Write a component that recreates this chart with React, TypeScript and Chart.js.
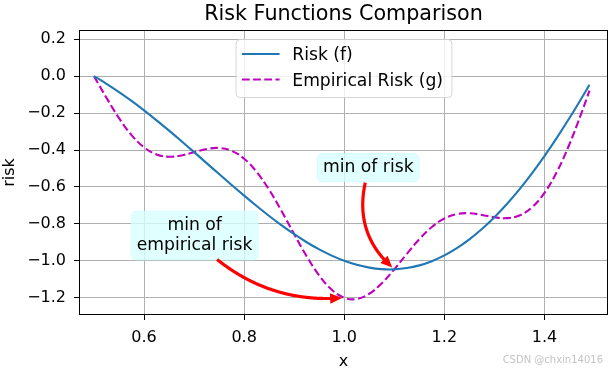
import React, { useEffect, useRef } from 'react';
import { Chart, registerables } from 'chart.js';

Chart.register(...registerables);

// ---------- data ----------
const xValues = [
  0.5, 0.525, 0.55, 0.575, 0.6, 0.625, 0.65, 0.675, 0.7, 0.725,
  0.75, 0.775, 0.8, 0.825, 0.85, 0.875, 0.9, 0.925, 0.95, 0.975,
  1.0, 1.025, 1.05, 1.075, 1.1, 1.125, 1.15, 1.175, 1.2, 1.225,
  1.25, 1.275, 1.3, 1.325, 1.35, 1.375, 1.4, 1.425, 1.45, 1.475, 1.49,
];
const riskF = [
  0, -0.0412, -0.086, -0.1342, -0.1854, -0.2392, -0.2951, -0.3527, -0.4115, -0.4709,
  -0.5303, -0.5893, -0.6472, -0.7034, -0.7574, -0.8084, -0.856, -0.8994, -0.9383, -0.972,
  -1.0, -1.0218, -1.0371, -1.0453, -1.0462, -1.0394, -1.0247, -1.0019, -0.9708, -0.9315,
  -0.8839, -0.8281, -0.7641, -0.6923, -0.6129, -0.5262, -0.4326, -0.3327, -0.2268, -0.1157, -0.0468,
];
const empiricalRiskG = [
  0, -0.1177, -0.2275, -0.319, -0.3854, -0.424, -0.4365, -0.4292, -0.4115, -0.3943,
  -0.3889, -0.4045, -0.4472, -0.5187, -0.6159, -0.7319, -0.856, -0.976, -1.0797, -1.1568,
  -1.2, -1.2066, -1.1785, -1.1218, -1.0462, -0.9628, -0.8832, -0.8171, -0.7708, -0.7467,
  -0.7425, -0.7515, -0.7641, -0.7689, -0.7543, -0.711, -0.6326, -0.5175, -0.3682, -0.1923, -0.0781,
];
const seriesLabels = ['Risk (f)', 'Empirical Risk (g)'];
const xTicks = [0.6, 0.8, 1.0, 1.2, 1.4];
const yTicks = [-1.2, -1.0, -0.8, -0.6, -0.4, -0.2, 0.0, 0.2];
const xRange = [0.47, 1.527];
const yRange = [-1.2935, 0.25];
const titleText = 'Risk Functions Comparison';
const xLabel = 'x';
const yLabel = 'risk';
const watermark = 'CSDN @chxin14016';

// annotations: text, text centre (data), arrow start (data), arrow target (data)
const annRiskText = ['min of risk'];
const annRiskTextAt = [1.048, -0.495];
const annRiskFrom = [1.042, -0.577];
const annRiskTo = [1.1, -1.046];
const annEmpText = ['min of', 'empirical risk'];
const annEmpTextAt = [0.701, -0.863];
const annEmpFrom = [0.746, -0.993];
const annEmpTo = [1.0, -1.2];

const FONT = '"DejaVu Sans", "Liberation Sans", sans-serif';
const BLUE = '#1f77b4';
const MAGENTA = '#bf00bf';
const DASH = [7.8, 3.4];
const LINE_W = 2.1;

const fmt = (v: number) => {
  const s = Number(v).toFixed(1);
  return s.replace('-', '\u2212');
};

function drawArrow(ctx: CanvasRenderingContext2D, S: number[], E: number[], rad: number, shrink: number) {
  const dxs = E[0] - S[0];
  const dys = E[1] - S[1];
  const mx = (S[0] + E[0]) / 2;
  const my = (S[1] + E[1]) / 2;
  const C = [mx - rad * dys, my + rad * dxs];
  const pts: number[][] = [];
  const N = 200;
  for (let i = 0; i <= N; i++) {
    const t = i / N;
    const a = (1 - t) * (1 - t), b = 2 * t * (1 - t), c = t * t;
    pts.push([a * S[0] + b * C[0] + c * E[0], a * S[1] + b * C[1] + c * E[1]]);
  }
  let tipIdx = N;
  for (let i = N; i >= 0; i--) {
    if (Math.hypot(pts[i][0] - E[0], pts[i][1] - E[1]) >= shrink) { tipIdx = i; break; }
  }
  const T = pts[tipIdx];
  const headLen = 11.5;
  const halfW = 5;
  let baseIdx = tipIdx;
  for (let i = tipIdx; i >= 0; i--) {
    if (Math.hypot(pts[i][0] - T[0], pts[i][1] - T[1]) >= headLen) { baseIdx = i; break; }
  }
  const B = pts[baseIdx];
  const ux = (T[0] - B[0]) / headLen;
  const uy = (T[1] - B[1]) / headLen;
  ctx.save();
  ctx.strokeStyle = 'red';
  ctx.fillStyle = 'red';
  ctx.lineWidth = 3.2;
  ctx.lineCap = 'butt';
  ctx.lineJoin = 'round';
  ctx.beginPath();
  ctx.moveTo(pts[0][0], pts[0][1]);
  for (let i = 1; i <= baseIdx + 2 && i <= tipIdx; i++) ctx.lineTo(pts[i][0], pts[i][1]);
  ctx.stroke();
  ctx.beginPath();
  ctx.moveTo(T[0], T[1]);
  ctx.lineTo(B[0] - uy * halfW, B[1] + ux * halfW);
  ctx.lineTo(B[0] + uy * halfW, B[1] - ux * halfW);
  ctx.closePath();
  ctx.fill();
  ctx.restore();
}

function drawTextBox(ctx: CanvasRenderingContext2D, lines: string[], cx: number, cy: number) {
  const size = 17.2;
  const lineH = 20.6;
  ctx.save();
  ctx.font = `${size}px ${FONT}`;
  const w = Math.max(...lines.map((l) => ctx.measureText(l).width));
  const bw = w + 11;
  const bh = lines.length * lineH + 7.5;
  ctx.fillStyle = 'rgba(215,255,255,0.78)';
  ctx.strokeStyle = 'rgba(200,250,250,0.6)';
  ctx.lineWidth = 1;
  ctx.beginPath();
  (ctx as any).roundRect(cx - bw / 2, cy - bh / 2, bw, bh, 5);
  ctx.fill();
  ctx.stroke();
  ctx.fillStyle = '#000';
  ctx.textAlign = 'center';
  ctx.textBaseline = 'alphabetic';
  const firstBase = cy - (lines.length * lineH) / 2 + lineH - 5.8;
  lines.forEach((l, i) => ctx.fillText(l, cx, firstBase + i * lineH));
  ctx.restore();
}

const overlayPlugin = {
  id: 'overlay',
  afterDraw(chart: any) {
    const ctx: CanvasRenderingContext2D = chart.ctx;
    const a = chart.chartArea;
    const xs = chart.scales.x;
    const ys = chart.scales.y;
    const px = (p: number[]) => [xs.getPixelForValue(p[0]), ys.getPixelForValue(p[1])];
    const cxPlot = (a.left + a.right) / 2;
    ctx.save();

    // spines
    ctx.strokeStyle = '#000';
    ctx.lineWidth = 1;
    ctx.strokeRect(Math.round(a.left) + 0.5, Math.round(a.top) + 0.5, Math.round(a.right - a.left) - 1, Math.round(a.bottom - a.top) - 1);

    // title
    ctx.fillStyle = '#000';
    ctx.font = `20.7px ${FONT}`;
    ctx.textAlign = 'center';
    ctx.textBaseline = 'alphabetic';
    ctx.fillText(titleText, cxPlot, 20);

    // axis labels
    ctx.font = `16px ${FONT}`;
    ctx.fillText(xLabel, cxPlot, 366);
    ctx.save();
    ctx.translate(14, (a.top + a.bottom) / 2);
    ctx.rotate(-Math.PI / 2);
    ctx.fillText(yLabel, 0, 0);
    ctx.restore();

    // watermark
    ctx.font = `10px ${FONT}`;
    ctx.fillStyle = '#c4c4c4';
    ctx.textAlign = 'right';
    ctx.fillText(watermark, 603, 363);

    // legend
    ctx.font = `17.2px ${FONT}`;
    const tw = Math.max(...seriesLabels.map((l) => ctx.measureText(l).width));
    const lw = 56.7 + tw + 8.4;
    const lh = 58;
    const lx = cxPlot - lw / 2;
    const ly = a.top + 9;
    ctx.fillStyle = 'rgba(255,255,255,0.8)';
    ctx.strokeStyle = 'rgba(204,204,204,0.8)';
    ctx.lineWidth = 1;
    ctx.beginPath();
    (ctx as any).roundRect(lx + 0.5, ly + 0.5, lw, lh, 4);
    ctx.fill();
    ctx.stroke();
    const rows = [ly + 15, ly + 40.5];
    const colors = [BLUE, MAGENTA];
    rows.forEach((ry, i) => {
      ctx.save();
      ctx.strokeStyle = colors[i];
      ctx.lineWidth = LINE_W;
      ctx.setLineDash(i === 1 ? DASH : []);
      ctx.beginPath();
      ctx.moveTo(lx + 6.3, ry);
      ctx.lineTo(lx + 44, ry);
      ctx.stroke();
      ctx.restore();
      ctx.fillStyle = '#000';
      ctx.textAlign = 'left';
      ctx.textBaseline = 'alphabetic';
      ctx.fillText(seriesLabels[i], lx + 56.7, ry + 6.3);
    });

    // annotations
    drawTextBox(ctx, annRiskText, ...(px(annRiskTextAt) as [number, number]));
    drawTextBox(ctx, annEmpText, ...(px(annEmpTextAt) as [number, number]));
    drawArrow(ctx, px(annRiskFrom), px(annRiskTo), 0.3, 2.5);
    drawArrow(ctx, px(annEmpFrom), px(annEmpTo), 0.2, 2);

    ctx.restore();
  },
};

export default function App() {
  const ref = useRef<HTMLCanvasElement | null>(null);
  useEffect(() => {
    if (!ref.current) return;
    const tickFont = { family: FONT, size: 16 };
    const chart = new Chart(ref.current, {
      type: 'line',
      data: {
        datasets: [
          {
            label: seriesLabels[0],
            data: xValues.map((x, i) => ({ x, y: riskF[i] })),
            borderColor: BLUE,
            borderWidth: LINE_W,
            pointRadius: 0,
            tension: 0.4,
            fill: false,
          },
          {
            label: seriesLabels[1],
            data: xValues.map((x, i) => ({ x, y: empiricalRiskG[i] })),
            borderColor: MAGENTA,
            borderWidth: LINE_W,
            borderDash: DASH,
            pointRadius: 0,
            tension: 0.4,
            fill: false,
          },
        ],
      },
      options: {
        animation: false,
        responsive: false,
        maintainAspectRatio: false,
        devicePixelRatio: 1,
        layout: { padding: { left: 0, right: 5, top: 30, bottom: 0 } },
        plugins: {
          legend: { display: false },
          title: { display: false },
          tooltip: { enabled: false },
        },
        scales: {
          x: {
            type: 'linear',
            min: xRange[0],
            max: xRange[1],
            afterBuildTicks: (s: any) => { s.ticks = xTicks.map((v) => ({ value: v })); },
            afterFit: (s: any) => { s.height = 55; },
            grid: { color: '#b0b0b0', lineWidth: 1, tickColor: '#000', tickLength: 5, tickWidth: 1 },
            border: { display: false },
            ticks: { font: tickFont, color: '#000', padding: 8, maxRotation: 0, autoSkip: false, callback: (v: any) => fmt(v) },
          },
          y: {
            type: 'linear',
            min: yRange[0],
            max: yRange[1],
            afterBuildTicks: (s: any) => { s.ticks = yTicks.map((v) => ({ value: v })); },
            afterFit: (s: any) => { s.width = 79; },
            grid: { color: '#b0b0b0', lineWidth: 1, tickColor: '#000', tickLength: 5, tickWidth: 1 },
            border: { display: false },
            ticks: { font: tickFont, color: '#000', padding: 8, autoSkip: false, callback: (v: any) => fmt(v) },
          },
        },
      } as any,
      plugins: [overlayPlugin],
    });
    return () => chart.destroy();
  }, []);
  return (
    <div style={{ position: 'absolute', left: 0, top: 0, width: 613, height: 370, background: '#fff' }}>
      <canvas ref={ref} width={613} height={370} style={{ display: 'block', width: 613, height: 370 }} />
    </div>
  );
}
